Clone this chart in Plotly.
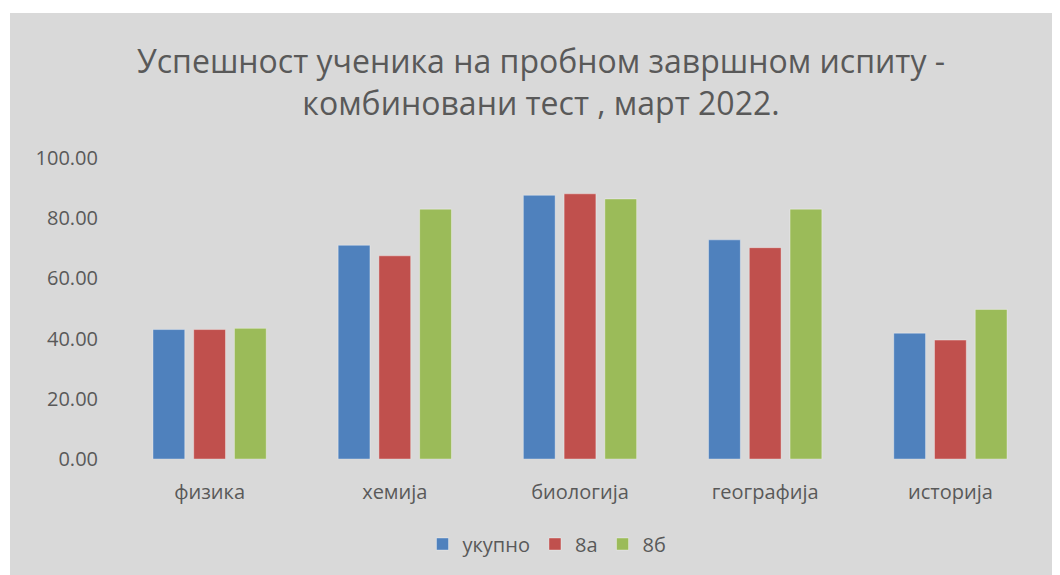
import plotly.graph_objects as go

categories = ["физика", "хемија", "биологија", "географија", "историја"]
ukupno = [43.0, 71.0, 87.6, 72.8, 41.8]
odd_8a = [43.0, 67.5, 88.1, 70.2, 39.5]
odd_8b = [43.4, 83.0, 86.4, 83.0, 49.7]

series = [("укупно", ukupno, "#4f81bd"), ("8а", odd_8a, "#c0504d"), ("8б", odd_8b, "#9bbb59")]

OFF = 8  # page body margin
W, H = 1060, 575
L, R = 117 - OFF, 17 + OFF
T = 158 - OFF
BOT = 459 - OFF
B = H - BOT
pw, ph = W - L - R, H - T - B

fig = go.Figure()
for name, vals, col in series:
    fig.add_trace(go.Bar(
        x=categories, y=vals, name=name,
        marker=dict(color=col, line=dict(color="rgba(255,255,255,0.35)", width=1)),
    ))

gray = "#d9d9d9"
txt = "#595959"
fig.add_shape(type="rect", xref="paper", yref="paper",
              x0=(10 - OFF - L) / pw, x1=(W - L + 20) / pw,
              y0=-(B + 20) / ph, y1=(BOT - (13 - OFF)) / ph,
              fillcolor=gray, line=dict(width=0), layer="below")

fig.update_layout(
    width=W, height=H,
    margin=dict(l=L, r=R, t=T, b=B),
    paper_bgcolor="white", plot_bgcolor="rgba(0,0,0,0)",
    barmode="group", bargap=0.34, bargroupgap=0.22,
    font=dict(family="Open Sans", color=txt),
    title=dict(text="Успешност ученика на пробном завршном испиту -<br>комбиновани тест , март 2022.",
               x=(541 - OFF) / W, xanchor="center", xref="container",
               y=1 - (73 - OFF) / H, yanchor="middle", yref="container",
               font=dict(size=32, color=txt, family="Open Sans")),
    legend=dict(orientation="h", x=(547 - OFF - L) / pw, xanchor="center",
                y=-(544 - 459) / ph, yanchor="middle",
                font=dict(size=20, color=txt), bgcolor="rgba(0,0,0,0)",
                itemwidth=30, traceorder="normal"),
    xaxis=dict(showgrid=False, showline=False, zeroline=False,
               ticks="outside", ticklen=15, tickcolor="rgba(0,0,0,0)",
               tickfont=dict(size=20, color=txt)),
    yaxis=dict(range=[0, 100], dtick=20, tickformat=".2f",
               showgrid=False, showline=False, zeroline=False,
               ticks="outside", ticklen=14, tickcolor="rgba(0,0,0,0)",
               tickfont=dict(size=20, color=txt)),
)

fig.write_html("out.html")
